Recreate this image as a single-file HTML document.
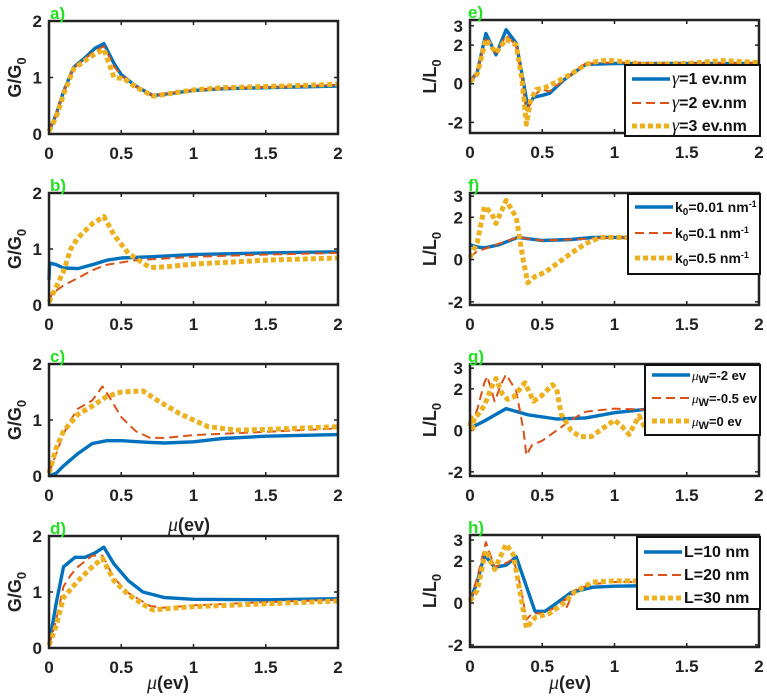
<!DOCTYPE html>
<html><head><meta charset="utf-8"><style>
body{margin:0;background:#fff;}
svg{display:block;font-family:"Liberation Sans",Arial,sans-serif;}
.tk{font-size:17px;font-weight:bold;fill:#222;}
.yl{font-size:18px;font-weight:bold;fill:#222;}
.pl{font-size:17px;font-weight:bold;fill:#22e022;}
.lg{font-weight:bold;fill:#111;}
</style></head><body>
<svg id="fig" width="767" height="696" viewBox="0 0 767 696" xmlns="http://www.w3.org/2000/svg"></svg>
<script>
// ---- data (x in eV, y values) ----
const xTicks=[0,0.5,1,1.5,2];
const xTickLabels=["0","0.5","1","1.5","2"];
const gTicks=[0,1,2];
const lTicks=[-2,0,2,3];
const a_blue=[[0,0.05],[0.05,0.35],[0.1,0.75],[0.17,1.18],[0.25,1.35],[0.32,1.52],[0.38,1.6],[0.45,1.25],[0.5,1.05],[0.6,0.85],[0.72,0.68],[0.85,0.72],[1,0.77],[1.2,0.8],[1.5,0.82],[2,0.85]];
const a_red=[[0,0.05],[0.05,0.35],[0.1,0.75],[0.17,1.17],[0.25,1.33],[0.32,1.48],[0.38,1.55],[0.45,1.2],[0.5,1.03],[0.6,0.84],[0.72,0.68],[0.85,0.73],[1,0.78],[1.2,0.81],[1.5,0.83],[2,0.87]];
const a_yel=[[0,0.05],[0.05,0.3],[0.1,0.7],[0.17,1.15],[0.25,1.3],[0.32,1.42],[0.38,1.5],[0.45,1.0],[0.52,0.98],[0.6,0.83],[0.72,0.67],[0.85,0.72],[1,0.78],[1.2,0.82],[1.5,0.84],[2,0.88]];
const b_blue=[[0,0.45],[0.005,0.75],[0.05,0.72],[0.1,0.66],[0.2,0.65],[0.3,0.72],[0.4,0.8],[0.5,0.84],[0.7,0.86],[1,0.9],[1.5,0.93],[2,0.95]];
const b_red=[[0,0.05],[0.02,0.2],[0.1,0.35],[0.2,0.48],[0.3,0.62],[0.4,0.72],[0.6,0.8],[1,0.86],[1.5,0.9],[2,0.93]];
const b_yel=[[0,0.05],[0.1,0.6],[0.15,1.0],[0.2,1.2],[0.3,1.45],[0.38,1.58],[0.45,1.25],[0.55,0.92],[0.62,0.8],[0.7,0.67],[0.8,0.68],[1,0.73],[1.5,0.8],[2,0.84]];
const c_blue=[[0,0],[0.05,0.05],[0.1,0.18],[0.2,0.4],[0.3,0.58],[0.4,0.63],[0.5,0.63],[0.7,0.6],[0.8,0.59],[1,0.61],[1.2,0.67],[1.5,0.71],[2,0.74]];
const c_red=[[0,0.05],[0.05,0.4],[0.1,0.75],[0.15,1.0],[0.2,1.2],[0.3,1.35],[0.37,1.6],[0.42,1.4],[0.5,1.05],[0.6,0.8],[0.7,0.68],[0.8,0.68],[1,0.73],[1.5,0.79],[2,0.85]];
const c_yel=[[0,0.05],[0.05,0.5],[0.1,0.8],[0.2,1.1],[0.3,1.25],[0.4,1.42],[0.5,1.5],[0.65,1.52],[0.75,1.35],[0.9,1.12],[1,1.0],[1.1,0.88],[1.3,0.82],[1.5,0.83],[2,0.88]];
const d_blue=[[0,0.05],[0.05,0.8],[0.1,1.45],[0.18,1.62],[0.25,1.62],[0.32,1.7],[0.38,1.8],[0.45,1.5],[0.55,1.2],[0.65,1.0],[0.8,0.9],[1,0.87],[1.5,0.86],[2,0.88]];
const d_red=[[0,0.05],[0.05,0.5],[0.1,1.1],[0.15,1.3],[0.2,1.45],[0.3,1.65],[0.37,1.65],[0.45,1.25],[0.55,0.98],[0.7,0.75],[0.8,0.72],[1,0.76],[1.5,0.82],[2,0.86]];
const d_yel=[[0,0.05],[0.05,0.4],[0.1,0.9],[0.2,1.2],[0.3,1.45],[0.37,1.6],[0.45,1.2],[0.55,0.95],[0.65,0.78],[0.72,0.68],[0.8,0.7],[1,0.74],[1.5,0.79],[2,0.84]];
const e_blue=[[0,0.1],[0.05,0.6],[0.11,2.6],[0.18,1.5],[0.25,2.8],[0.32,2.1],[0.36,0.5],[0.4,-1.2],[0.44,-0.7],[0.5,-0.6],[0.55,-0.5],[0.65,0.2],[0.8,1.0],[1,1.05],[1.5,1.05],[2,1.05]];
const e_red=[[0,0.1],[0.05,0.6],[0.11,2.3],[0.18,1.6],[0.25,2.5],[0.32,2.0],[0.36,0.2],[0.39,-1.5],[0.44,-0.6],[0.5,-0.3],[0.55,-0.4],[0.65,0.2],[0.8,1.05],[1,1.1],[1.5,1.05],[2,1.08]];
const e_yel=[[0,0.1],[0.05,0.5],[0.11,2.3],[0.18,1.6],[0.25,2.3],[0.32,2.0],[0.36,0.2],[0.39,-2.1],[0.42,-0.8],[0.46,-0.3],[0.52,-0.2],[0.6,0.1],[0.7,0.5],[0.8,1.0],[0.9,1.2],[1,1.2],[1.2,1.0],[1.5,1.05],[1.75,1.2],[2,1.1]];
const f_blue=[[0,0.7],[0.05,0.6],[0.1,0.55],[0.2,0.7],[0.33,1.05],[0.5,0.9],[0.7,0.95],[0.85,1.05],[1,1.05],[1.5,1.02],[2,1.02]];
const f_red=[[0,0.1],[0.05,0.4],[0.1,0.5],[0.2,0.75],[0.33,1.05],[0.5,0.9],[0.7,0.95],[1,1.05],[2,1.02]];
const f_yel=[[0,0.1],[0.05,0.8],[0.1,2.5],[0.15,2.2],[0.18,1.7],[0.25,2.8],[0.32,2.0],[0.37,-0.1],[0.4,-1.1],[0.45,-0.8],[0.52,-0.6],[0.6,-0.2],[0.7,0.3],[0.8,0.75],[0.9,1.05],[1,1.05],[1.5,1.0],[2,1.02]];
const g_blue=[[0,0.1],[0.1,0.45],[0.25,1.05],[0.4,0.75],[0.6,0.55],[0.8,0.6],[1,0.85],[1.2,1.0],[1.5,1.0],[2,1.0]];
const g_red=[[0,0.2],[0.05,1.0],[0.1,2.3],[0.12,2.6],[0.17,1.4],[0.22,2.3],[0.25,2.7],[0.32,1.9],[0.37,0.0],[0.39,-1.2],[0.43,-0.7],[0.5,-0.5],[0.6,0.0],[0.7,0.5],[0.8,0.9],[1,1.05],[1.2,1.0],[2,1.05]];
const g_yel=[[0,0.2],[0.01,0.6],[0.02,0.1],[0.03,0.6],[0.06,0.8],[0.1,1.2],[0.15,2.1],[0.18,2.5],[0.22,1.8],[0.26,1.5],[0.3,1.6],[0.38,2.3],[0.44,1.4],[0.5,1.7],[0.57,2.2],[0.6,2.0],[0.63,0.8],[0.7,0.0],[0.76,-0.3],[0.84,-0.3],[0.9,0.0],[1,0.5],[1.05,0.2],[1.1,-0.2],[1.17,0.7],[1.22,0.0],[1.3,0.2],[1.5,0.5],[2,1.0]];
const h_blue=[[0,0.1],[0.05,1.0],[0.1,2.3],[0.17,1.7],[0.25,1.8],[0.32,2.2],[0.38,1.0],[0.45,-0.4],[0.52,-0.4],[0.6,0.0],[0.7,0.5],[0.85,0.75],[1,0.8],[1.5,0.85],[2,0.9]];
const h_red=[[0,0.1],[0.05,1.2],[0.11,2.9],[0.17,1.7],[0.25,1.9],[0.3,2.1],[0.35,0.8],[0.39,-0.8],[0.43,-0.5],[0.5,-0.5],[0.6,-0.2],[0.66,0.2],[0.67,-0.2],[0.72,0.6],[0.85,0.9],[1,1.0],[2,1.05]];
const h_yel=[[0,0.1],[0.05,0.6],[0.11,2.5],[0.17,1.6],[0.25,2.8],[0.3,2.3],[0.36,0.0],[0.39,-1.2],[0.45,-0.7],[0.55,-0.5],[0.65,0.0],[0.72,0.5],[0.85,1.0],[1,1.05],[2,1.05]];

const NS="http://www.w3.org/2000/svg";
const svg=document.getElementById('fig');
function mk(tag,attrs,parent){const e=document.createElementNS(NS,tag);for(const k in attrs)e.setAttribute(k,attrs[k]);(parent||svg).appendChild(e);return e;}
const STY={
 blue:{stroke:"#0072BD","stroke-width":3.4},
 red:{stroke:"#D95319","stroke-width":2,"stroke-dasharray":"9,5"},
 yel:{stroke:"#EDB120","stroke-width":5,"stroke-dasharray":"5,3"}
};
const panels=[
 {id:"a",L:49,R:338,T:21,B:134,ymin:0,ymax:2,ticks:gTicks,yl:"G/G",s:[a_blue,a_red,a_yel]},
 {id:"b",L:49,R:338,T:193,B:305,ymin:0,ymax:2,ticks:gTicks,yl:"G/G",s:[b_blue,b_red,b_yel]},
 {id:"c",L:49,R:338,T:364,B:476,ymin:0,ymax:2,ticks:gTicks,yl:"G/G",s:[c_blue,c_red,c_yel]},
 {id:"d",L:49,R:338,T:536,B:648,ymin:0,ymax:2,ticks:gTicks,yl:"G/G",s:[d_blue,d_red,d_yel]},
 {id:"e",L:470,R:759,T:20,B:133,ymin:-2.55,ymax:3.3,ticks:lTicks,yl:"L/L",s:[e_blue,e_red,e_yel],
  lg:{x:625,y:65,w:135,h:71,fs:16,rows:[79,103,126],lab:[["γ","=1 ev.nm"],["γ","=2 ev.nm"],["γ","=3 ev.nm"]]}},
 {id:"f",L:470,R:759,T:193,B:305,ymin:-2.15,ymax:3.15,ticks:lTicks,yl:"L/L",s:[f_blue,f_red,f_yel],
  lg:{x:628,y:194,w:132,h:80,fs:14,rows:[207,233,258],lab:[["k0","=0.01 nm"],["k0","=0.1 nm"],["k0","=0.5 nm"]]}},
 {id:"g",L:470,R:759,T:364,B:476,ymin:-2.2,ymax:3.2,ticks:lTicks,yl:"L/L",s:[g_blue,g_red,g_yel],
  lg:{x:645,y:365,w:115,h:70,fs:13,rows:[375,398,421],lab:[["μW","=-2 ev"],["μW","=-0.5 ev"],["μW","=0 ev"]]}},
 {id:"h",L:470,R:759,T:535,B:647,ymin:-2.1,ymax:3.24,ticks:lTicks,yl:"L/L",s:[h_blue,h_red,h_yel],
  lg:{x:637,y:537,w:123,h:72,fs:16,rows:[552,575,598],lab:[["","L=10 nm"],["","L=20 nm"],["","L=30 nm"]]}}
];
const keys=["blue","red","yel"];
panels.forEach(p=>{
 const g=mk('g',{});
 
 
 const sx=v=>p.L+(v-0)/(2-0)*(p.R-p.L);
 const sy=v=>p.B-(v-p.ymin)/(p.ymax-p.ymin)*(p.B-p.T);
 xTicks.forEach((t,i)=>{
  const x=sx(t);
  mk('line',{x1:x,y1:p.B,x2:x,y2:p.B-4,stroke:"#222","stroke-width":1.5},g);
  mk('line',{x1:x,y1:p.T,x2:x,y2:p.T+4,stroke:"#222","stroke-width":1.5},g);
  const tx=mk('text',{x:x,y:p.B+25,"text-anchor":"middle",class:"tk"},g);
  tx.textContent=xTickLabels[i];
  
  
 });
 p.ticks.forEach(t=>{
  const y=sy(t);
  mk('line',{x1:p.L,y1:y,x2:p.L+4,y2:y,stroke:"#222","stroke-width":1.5},g);
  mk('line',{x1:p.R,y1:y,x2:p.R-4,y2:y,stroke:"#222","stroke-width":1.5},g);
  const tx=mk('text',{x:p.L-7,y:y+6,"text-anchor":"end",class:"tk"},g);
  tx.textContent=String(t);
  
  
 });
 p.s.forEach((ser,i)=>{
  const d=ser.map((pt,j)=>(j?'L':'M')+sx(pt[0]).toFixed(1)+','+sy(pt[1]).toFixed(1)).join(' ');
  const a=Object.assign({d:d,fill:"none","stroke-linejoin":"round"},STY[keys[i]]);
  const path=mk('path',a,g);
  
  
 });
 const box=mk('rect',{x:p.L,y:p.T,width:p.R-p.L,height:p.B-p.T,fill:"none",stroke:"#222","stroke-width":2.5},g);
 
 
 const cx=p.L<100?21:436, cy=(p.T+p.B)/2;
 const yl=mk('text',{x:cx,y:cy,"text-anchor":"middle",class:"yl",transform:`rotate(-90 ${cx} ${cy})`},g);
 
 
 yl.appendChild(document.createTextNode(p.yl));
 const sb=mk('tspan',{"font-size":"13",dy:"5"},yl); sb.textContent="0";
 const pl=mk('text',{x:p.L+(p.L<100?1:-2),y:p.T-2,class:"pl"},g);
 pl.textContent=p.id+")";
 
 
 if(p.lg){
  const L=p.lg;
  const lgG=mk('g',{},g);
  
  
  mk('rect',{x:L.x,y:L.y,width:L.w,height:L.h,fill:"#fff",stroke:"#111","stroke-width":2},lgG);
  L.rows.forEach((ry,i)=>{
   const en=mk('g',{},lgG);
   
   
   const a=Object.assign({x1:L.x+7,y1:ry,x2:L.x+45,y2:ry},STY[keys[i]]);
   mk('line',a,en);
   const t=mk('text',{x:L.x+47,y:ry+5,class:"lg","font-size":L.fs},en);
   const lab=L.lab[i];
   if(lab[0]==="γ"){const s=mk('tspan',{"font-family":"Liberation Serif, serif","font-style":"italic","font-weight":"normal","font-size":L.fs+2},t);s.textContent="γ";t.appendChild(document.createTextNode(lab[1]));}
   else if(lab[0]==="k0"){t.appendChild(document.createTextNode("k"));const s=mk('tspan',{"font-size":L.fs-4,dy:3},t);s.textContent="0";const r=mk('tspan',{dy:-3},t);r.textContent=lab[1];const s2=mk('tspan',{"font-size":L.fs-5,dy:-5},t);s2.textContent="-1";}
   else if(lab[0]==="μW"){const s=mk('tspan',{"font-family":"Liberation Serif, serif","font-style":"italic","font-weight":"normal"},t);s.textContent="μ";const w=mk('tspan',{"font-size":L.fs-2,dy:3},t);w.textContent="W";const r=mk('tspan',{dy:-3},t);r.textContent=lab[1];}
   else t.textContent=lab[1];
  });
 }
});
[[189,531],[168,689],[570,689]].forEach(([x,y])=>{
 const t=mk('text',{x:x,y:y,"text-anchor":"middle",class:"yl","font-size":"18"});
 
 
 const m=mk('tspan',{"font-family":"Liberation Serif, serif","font-style":"italic","font-weight":"normal","font-size":"20"},t);m.textContent="μ";
 t.appendChild(document.createTextNode("(ev)"));
});
</script>
</body></html>
